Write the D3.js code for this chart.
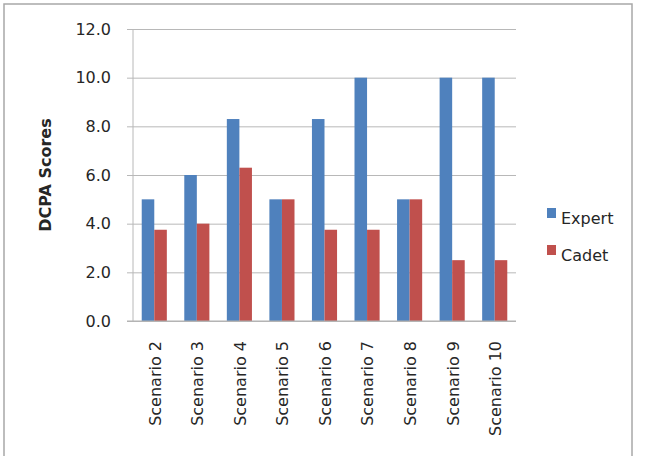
<!DOCTYPE html>
<html>
<head>
<meta charset="utf-8">
<script src="https://cdn.jsdelivr.net/npm/d3@7"></script>
<style>
  html, body { margin: 0; padding: 0; background: #fff; }
  svg { display: block; }
  text { font-family: "DejaVu Sans", sans-serif; fill: #262626; }
</style>
</head>
<body>
<script>
const categories = ["Scenario 2", "Scenario 3", "Scenario 4", "Scenario 5", "Scenario 6", "Scenario 7", "Scenario 8", "Scenario 9", "Scenario 10"];
const seriesNames = ["Expert", "Cadet"];
const expertValues = [5.0, 6.0, 8.3, 5.0, 8.3, 10.0, 5.0, 10.0, 10.0];
const cadetValues = [3.75, 4.0, 6.3, 5.0, 3.75, 3.75, 5.0, 2.5, 2.5];
const yTicks = [0, 2, 4, 6, 8, 10, 12];
const colors = ["#4F81BD", "#C0504D"];
const yTitle = "DCPA Scores";

const W = 655, H = 456;
const svg = d3.select("body").append("svg").attr("width", W).attr("height", H);

// outer border
svg.append("rect").attr("x", 4).attr("y", 4).attr("width", 628).attr("height", H + 10)
  .attr("fill", "#fff").attr("stroke", "#a8a8a8").attr("stroke-width", 1.5);

const plot = { left: 133, right: 516, top: 29, bottom: 321 };

const x = d3.scaleBand().domain(categories).range([plot.left, plot.right])
  .paddingInner(0.41).paddingOuter(0.205);
const xs = d3.scaleBand().domain(seriesNames).range([0, x.bandwidth()]);
const y = d3.scaleLinear().domain([0, 12]).range([plot.bottom, plot.top]);

// gridlines + y axis
const yAxis = d3.axisLeft(y).tickValues(yTicks).tickFormat(d3.format(".1f"))
  .tickSize(-(plot.right - plot.left)).tickPadding(22);
const gy = svg.append("g").attr("transform", `translate(${plot.left},0)`).call(yAxis);
gy.select(".domain").remove();
gy.selectAll(".tick line").attr("stroke", "#b8b8b8").attr("stroke-width", 1)
  .attr("x1", -6);
gy.selectAll(".tick text").style("font-size", "16px").attr("fill", "#262626");

// y axis line
svg.append("line").attr("x1", plot.left).attr("x2", plot.left)
  .attr("y1", plot.top).attr("y2", plot.bottom)
  .attr("stroke", "#b8b8b8").attr("stroke-width", 1);

// bars
const data = categories.map((c, i) => ({ cat: c, vals: [expertValues[i], cadetValues[i]] }));
const groups = svg.append("g").selectAll("g").data(data).join("g")
  .attr("transform", d => `translate(${x(d.cat)},0)`);
groups.selectAll("rect").data(d => d.vals.map((v, j) => ({ name: seriesNames[j], v, j })))
  .join("rect")
  .attr("x", d => xs(d.name))
  .attr("width", xs.bandwidth())
  .attr("y", d => y(d.v))
  .attr("height", d => y(0) - y(d.v))
  .attr("fill", d => colors[d.j]);

// x axis line
svg.append("line").attr("x1", plot.left - 6).attr("x2", plot.right)
  .attr("y1", plot.bottom).attr("y2", plot.bottom)
  .attr("stroke", "#b0b0b0").attr("stroke-width", 1);

// x labels (rotated)
const xAxis = d3.axisBottom(x).tickSize(0).tickPadding(0);
const gx = svg.append("g").attr("transform", `translate(0,${plot.bottom})`).call(xAxis);
gx.select(".domain").remove();
gx.selectAll(".tick text")
  .style("font-size", "16px")
  .attr("fill", "#262626")
  .attr("text-anchor", "end")
  .attr("transform", "rotate(-90)")
  .attr("x", -20)
  .attr("y", 0)
  .attr("dy", "0.4em");

// y title
svg.append("text")
  .attr("transform", `translate(51,${(plot.top + plot.bottom) / 2}) rotate(-90)`)
  .attr("text-anchor", "middle")
  .style("font-size", "16px").style("font-weight", "bold")
  .text(yTitle);

// legend
const legend = svg.append("g");
seriesNames.forEach((n, i) => {
  const ly = 208 + i * 37;
  legend.append("rect").attr("x", 547).attr("y", ly).attr("width", 9).attr("height", 10).attr("fill", colors[i]);
  legend.append("text").attr("x", 561).attr("y", ly + 16).style("font-size", "16px").text(n);
});
</script>
</body>
</html>
